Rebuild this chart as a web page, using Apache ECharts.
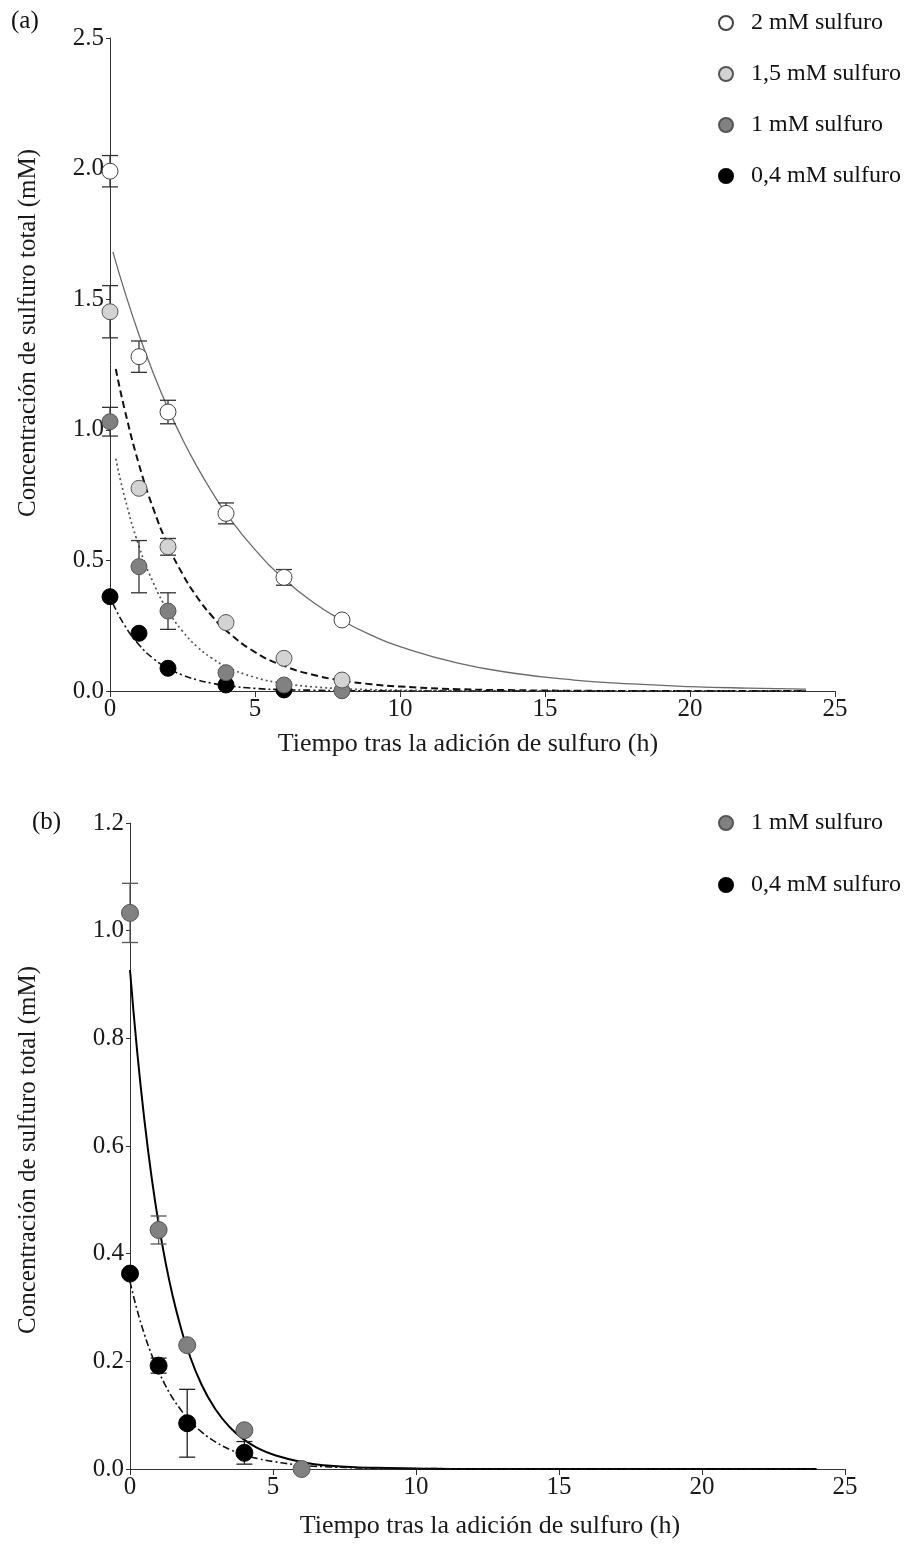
<!DOCTYPE html>
<html>
<head>
<meta charset="utf-8">
<script src="https://cdn.jsdelivr.net/npm/echarts@6/dist/echarts.min.js"></script>
<style>
  html, body { margin: 0; padding: 0; background: #fff; }
  #chart { width: 912px; height: 1544px; }
</style>
</head>
<body>
<div id="chart"></div>
<script>
// ---- Measured time points (h) ----
const sampleTimes = [0, 1, 2, 4, 6, 8];
const sampleTimesB = [0, 1, 2, 4, 6];

// ---- Panel (a): mean total sulfide (mM) and SD (null = bar hidden by marker) ----
const meanA_2mM   = [1.99, 1.28, 1.068, 0.680, 0.435, 0.272];
const sdA_2mM     = [0.06, 0.06, 0.045, 0.04, 0.03, null];
const meanA_15mM  = [1.452, 0.776, 0.552, 0.262, 0.125, 0.042];
const sdA_15mM    = [0.10, null, 0.032, null, null, null];
const meanA_1mM   = [1.031, 0.476, 0.306, 0.070, 0.023, 0.001];
const sdA_1mM     = [0.055, 0.10, 0.07, null, null, null];
const meanA_04mM  = [0.361, 0.221, 0.087, 0.023, 0.004];
const sdA_04mM    = [null, null, null, null, null];

// ---- Panel (b) ----
const meanB_1mM   = [1.033, 0.444, 0.230, 0.072, 0.0];
const sdB_1mM     = [0.055, 0.026, null, null, null];
const meanB_04mM  = [0.363, 0.192, 0.085, 0.030];
const sdB_04mM    = [null, 0.014, 0.063, 0.021];

// ---- Fitted decay curves ----
const fitT_2mM  = [0.1, 0.5, 1, 1.5, 2, 2.5, 3, 3.5, 4, 5, 6, 7, 8, 9, 10, 12, 14, 16, 18, 20, 22, 24];
const fitY_2mM  = [1.681, 1.532, 1.364, 1.215, 1.082, 0.964, 0.859, 0.765, 0.681, 0.541, 0.429, 0.340, 0.270, 0.214, 0.170, 0.107, 0.067, 0.042, 0.027, 0.017, 0.011, 0.007];
const fitT_15mM = [0.2, 0.5, 1, 1.5, 2, 2.5, 3, 3.5, 4, 5, 6, 7, 8, 9, 10, 12, 14, 16, 18, 20, 22, 24];
const fitY_15mM = [1.233, 1.080, 0.867, 0.696, 0.558, 0.448, 0.360, 0.289, 0.232, 0.149, 0.096, 0.062, 0.040, 0.026, 0.017, 0.007, 0.003, 0.001, 0.0, 0.0, 0.0, 0.0];
const fitT_1mM  = [0.2, 0.5, 1, 1.5, 2, 2.5, 3, 3.5, 4, 5, 6, 7, 8, 9, 10, 12, 14, 16, 18, 20, 22, 24];
const fitY_1mM  = [0.889, 0.745, 0.554, 0.413, 0.307, 0.229, 0.170, 0.127, 0.094, 0.052, 0.029, 0.016, 0.009, 0.005, 0.003, 0.001, 0.0, 0.0, 0.0, 0.0, 0.0, 0.0];
const fitT_04mM = [0.1, 0.5, 1, 1.5, 2, 2.5, 3, 3.5, 4, 5, 6, 7, 8, 9, 10, 12, 14, 16, 18, 20, 22, 24];
const fitY_04mM = [0.335, 0.252, 0.177, 0.124, 0.087, 0.061, 0.043, 0.030, 0.021, 0.010, 0.005, 0.003, 0.001, 0.001, 0.0, 0.0, 0.0, 0.0, 0.0, 0.0, 0.0, 0.0];

const fitTB_1mM  = [0, 0.25, 0.5, 0.75, 1, 1.25, 1.5, 1.75, 2, 2.5, 3, 3.5, 4, 4.5, 5, 6, 7, 8, 9, 10, 12, 14, 16, 18, 20, 22, 24];
const fitYB_1mM  = [0.927, 0.776, 0.650, 0.544, 0.456, 0.382, 0.320, 0.268, 0.224, 0.157, 0.110, 0.077, 0.054, 0.038, 0.027, 0.013, 0.006, 0.003, 0.002, 0.001, 0.0, 0.0, 0.0, 0.0, 0.0, 0.0, 0.0];
const fitTB_04mM = [0, 0.25, 0.5, 0.75, 1, 1.25, 1.5, 1.75, 2, 2.5, 3, 3.5, 4, 4.5, 5, 6, 7, 8, 9, 10, 12, 14, 16, 18, 20, 22, 24];
const fitYB_04mM = [0.348, 0.295, 0.251, 0.213, 0.182, 0.154, 0.131, 0.112, 0.095, 0.069, 0.050, 0.036, 0.026, 0.019, 0.014, 0.007, 0.004, 0.002, 0.001, 0.001, 0.0, 0.0, 0.0, 0.0, 0.0, 0.0, 0.0];

// ---- Labels ----
const seriesNames = ['2 mM sulfuro', '1,5 mM sulfuro', '1 mM sulfuro', '0,4 mM sulfuro'];
const xTitle = 'Tiempo tras la adición de sulfuro (h)';
const yTitle = 'Concentración de sulfuro total (mM)';

const FONT = '"Liberation Serif", "DejaVu Serif", serif';
const fills = { w: '#ffffff', l: '#d3d3d3', m: '#818181', k: '#000000' };

function pairs(xs, ys) { return xs.map((x, i) => [x, ys[i]]); }
function errData(xs, m, s) {
  const out = [];
  xs.forEach((x, i) => { if (m[i] != null && s[i] != null) out.push([x, m[i], s[i]]); });
  return out;
}

function errorSeries(gi, data, color) {
  return {
    type: 'custom', xAxisIndex: gi, yAxisIndex: gi, z: 3, silent: true,
    data: data,
    renderItem: function (params, api) {
      const x = api.value(0), m = api.value(1), s = api.value(2);
      const hi = api.coord([x, m + s]);
      const lo = api.coord([x, m - s]);
      const hw = 8;
      const st = { stroke: color, lineWidth: 1.3 };
      return {
        type: 'group',
        children: [
          { type: 'line', shape: { x1: hi[0], y1: hi[1], x2: lo[0], y2: lo[1] }, style: st },
          { type: 'line', shape: { x1: hi[0] - hw, y1: hi[1], x2: hi[0] + hw, y2: hi[1] }, style: st },
          { type: 'line', shape: { x1: lo[0] - hw, y1: lo[1], x2: lo[0] + hw, y2: lo[1] }, style: st }
        ]
      };
    }
  };
}

function fitSeries(gi, xs, ys, style) {
  return {
    type: 'line', xAxisIndex: gi, yAxisIndex: gi, z: 2, silent: true,
    data: pairs(xs, ys), showSymbol: false, symbol: 'none',
    smooth: 0.5,
    lineStyle: style
  };
}

function scatterSeries(gi, name, xs, ys, fill, border, size) {
  return {
    type: 'scatter', name: name, xAxisIndex: gi, yAxisIndex: gi, z: 4,
    data: pairs(xs, ys), symbol: 'circle', symbolSize: size,
    itemStyle: { color: fill, borderColor: border, borderWidth: 1, opacity: 1 }
  };
}

const axisLbl = { fontFamily: FONT, fontSize: 25, color: '#1a1a1a' };

function xAxisDef(gi) {
  return {
    type: 'value', gridIndex: gi, min: 0, max: 25, interval: 5,
    axisLine: { show: true, onZero: false, lineStyle: { color: '#333', width: 1 } },
    axisTick: { show: true, length: 6, lineStyle: { color: '#333' } },
    axisLabel: Object.assign({ margin: 6 }, axisLbl),
    splitLine: { show: false }
  };
}
function yAxisDef(gi, max, interval) {
  return {
    type: 'value', gridIndex: gi, min: 0, max: max, interval: interval,
    axisLine: { show: true, onZero: false, lineStyle: { color: '#333', width: 1 } },
    axisTick: { show: true, length: 4, lineStyle: { color: '#333' } },
    axisLabel: Object.assign({ margin: 6, formatter: v => v.toFixed(1) }, axisLbl),
    splitLine: { show: false }
  };
}

const chart = echarts.init(document.getElementById('chart'), null, { renderer: 'canvas' });

const option = {
  backgroundColor: '#ffffff',
  animation: false,
  grid: [
    { left: 110, top: 38, width: 725, height: 653 },
    { left: 130, top: 823, width: 715, height: 646 }
  ],
  xAxis: [xAxisDef(0), xAxisDef(1)],
  yAxis: [yAxisDef(0, 2.5, 0.5), yAxisDef(1, 1.2, 0.2)],
  legend: [
    {
      orient: 'vertical', left: 713, top: 6, itemWidth: 40, itemHeight: 14, itemGap: 27,
      data: seriesNames,
      textStyle: { fontFamily: FONT, fontSize: 24, color: '#111', lineHeight: 24 },
      selectedMode: false
    },
    {
      orient: 'vertical', left: 713, top: 806, itemWidth: 40, itemHeight: 14, itemGap: 38,
      data: [seriesNames[2], seriesNames[3]],
      textStyle: { fontFamily: FONT, fontSize: 24, color: '#111', lineHeight: 24 },
      selectedMode: false
    }
  ],
  graphic: [
    { type: 'text', left: 11, top: 9, style: { text: '(a)', font: '25px ' + FONT, fill: '#111' } },
    { type: 'text', left: 32, top: 810, style: { text: '(b)', font: '25px ' + FONT, fill: '#111' } },
    { type: 'text', x: 28, y: 333, rotation: Math.PI / 2,
      style: { text: yTitle, font: '25px ' + FONT, fill: '#1a1a1a', align: 'center', verticalAlign: 'middle' } },
    { type: 'text', x: 28, y: 1150, rotation: Math.PI / 2,
      style: { text: yTitle, font: '25px ' + FONT, fill: '#1a1a1a', align: 'center', verticalAlign: 'middle' } },
    { type: 'text', x: 468, y: 744,
      style: { text: xTitle, font: '26px ' + FONT, fill: '#1a1a1a', align: 'center', verticalAlign: 'middle' } },
    { type: 'text', x: 490, y: 1526,
      style: { text: xTitle, font: '26px ' + FONT, fill: '#1a1a1a', align: 'center', verticalAlign: 'middle' } }
  ],
  series: [
    // panel (a) fitted curves
    fitSeries(0, fitT_2mM, fitY_2mM, { color: '#6a6a6a', width: 1.3, type: 'solid' }),
    fitSeries(0, fitT_15mM, fitY_15mM, { color: '#111', width: 2, type: [7, 4] }),
    fitSeries(0, fitT_1mM, fitY_1mM, { color: '#555', width: 1.7, type: [2, 3] }),
    fitSeries(0, fitT_04mM, fitY_04mM, { color: '#111', width: 1.6, type: [7, 3, 2, 3] }),
    // panel (a) error bars
    errorSeries(0, errData(sampleTimes, meanA_2mM, sdA_2mM), '#333'),
    errorSeries(0, errData(sampleTimes, meanA_15mM, sdA_15mM), '#333'),
    errorSeries(0, errData(sampleTimes, meanA_1mM, sdA_1mM), '#333'),
    errorSeries(0, errData(sampleTimes, meanA_04mM, sdA_04mM), '#333'),
    // panel (a) means
    scatterSeries(0, seriesNames[3], sampleTimes.slice(0, meanA_04mM.length), meanA_04mM, fills.k, '#000', 16),
    scatterSeries(0, seriesNames[2], sampleTimes, meanA_1mM, fills.m, '#555', 16),
    scatterSeries(0, seriesNames[1], sampleTimes, meanA_15mM, fills.l, '#555', 16),
    scatterSeries(0, seriesNames[0], sampleTimes, meanA_2mM, fills.w, '#444', 16),
    // panel (b) fitted curves
    fitSeries(1, fitTB_1mM, fitYB_1mM, { color: '#000', width: 2, type: 'solid' }),
    fitSeries(1, fitTB_04mM, fitYB_04mM, { color: '#111', width: 1.6, type: [7, 3, 2, 3] }),
    // panel (b) error bars
    errorSeries(1, errData(sampleTimesB, meanB_1mM, sdB_1mM), '#555'),
    errorSeries(1, errData(sampleTimesB, meanB_04mM, sdB_04mM), '#222'),
    // panel (b) means
    scatterSeries(1, seriesNames[2], sampleTimesB, meanB_1mM, fills.m, '#555', 17),
    scatterSeries(1, seriesNames[3], sampleTimesB.slice(0, meanB_04mM.length), meanB_04mM, fills.k, '#000', 17)
  ]
};

chart.setOption(option);
</script>
</body>
</html>
